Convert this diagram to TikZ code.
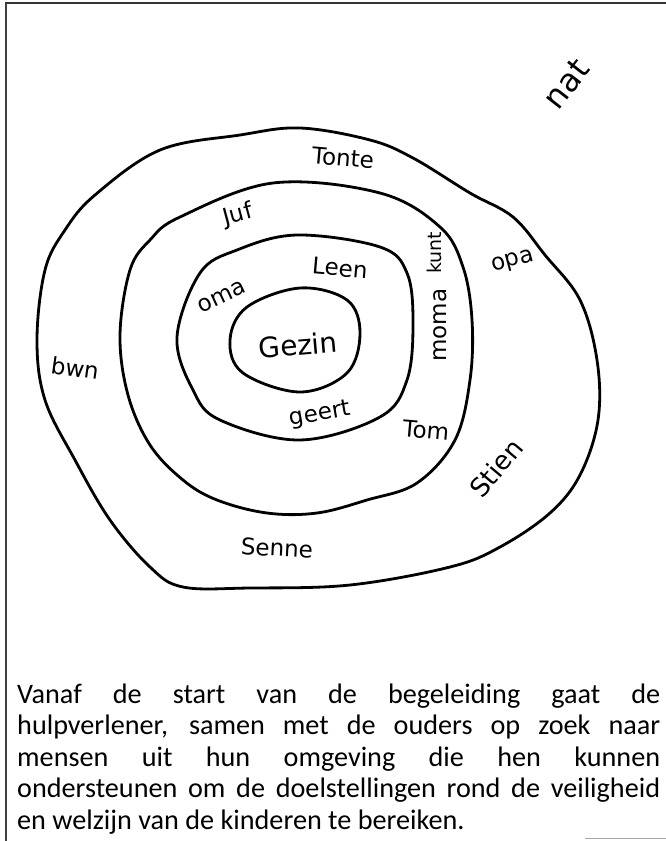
\documentclass[tikz,border=0pt]{standalone}
\usepackage{fontspec}
\newfontfamily\bodyfont{Carlito}
\newfontfamily\handfont{DejaVu Sans}
\tikzset{
  ring/.style={line width=2.8pt, line join=round},
  hand/.style={font=\fontsize{23}{23}\selectfont\handfont, inner sep=0pt},
  frameline/.style={line width=2pt, draw=black!80},
}
\newcommand{\jline}[1]{\makebox[643pt][s]{#1}\\}
\begin{document}
\begin{tikzpicture}[x=1pt,y=-1pt]
\useasboundingbox (0,0) rectangle (666,841);
\fill[white] (0,0) rectangle (666,841);
% frame
\draw[frameline] (5,3) -- (666,3);
\draw[line width=1.3pt, draw=black!75] (6,3) -- (6,841);
\draw[line width=1pt, draw=black!35] (585,838) -- (666,838);
% rings
\draw[ring] plot[smooth cycle, tension=0.6] coordinates {(300,288) (347,300) (360,333) (347,373) (300,392) (243,373) (230,340) (247,307)};
\draw[ring] plot[smooth cycle, tension=0.6] coordinates {(297,235) (380,247) (407,273) (413,323) (407,380) (380,417) (300,440) (220,420) (193,390) (177,337) (200,273) (237,250)};
\draw[ring] plot[smooth cycle, tension=0.6] coordinates {(273,183) (380,193) (440,227) (463,267) (472,320) (470,380) (455,440) (417,483) (367,500) (317,513) (267,513) (217,500) (183,480) (150,445) (128,395) (120,335) (130,270) (150,240) (180,217)};
\draw[ring] plot[smooth cycle, tension=0.6] coordinates {(95,195) (160,150) (240,135) (300,128) (370,140) (413,158) (470,193) (513,217) (545,255) (580,300) (597,360) (598,420) (580,475) (550,513) (500,547) (450,567) (350,585) (250,588) (183,587) (150,567) (110,520) (75,460) (45,400) (37,340) (45,270) (65,230)};
% labels
\node[hand, font=\fontsize{32}{32}\selectfont\handfont, rotate=52] (nat) at (566,84) {nat};
\node[hand, rotate=-5] (tante) at (343,158) {Tonte};
\node[hand, rotate=15] (juf) at (238,215) {Juf};
\node[hand, rotate=-5] (leen) at (340,268) {Leen};
\node[hand, font=\fontsize{19}{19}\selectfont\handfont, rotate=90] (kurt) at (434,253) {kunt};
\node[hand, rotate=90] (mama) at (440,325) {moma};
\node[hand, rotate=25] (oma) at (222,297) {oma};
\node[hand, font=\fontsize{28}{28}\selectfont\handfont, rotate=5] (gezin) at (298,345) {Gezin};
\node[hand, rotate=10] (geert) at (320,415) {geert};
\node[hand, rotate=-5] (tom) at (426,430) {Tom};
\node[hand, rotate=15] (opa) at (513,262) {opa};
\node[hand, rotate=-8] (buur) at (75,368) {bwn};
\node[hand, font=\fontsize{26}{26}\selectfont\handfont, rotate=50] (stien) at (496,468) {Stien};
\node[hand, rotate=-3] (senne) at (277,548) {Senne};
% caption
\node[anchor=base west, inner sep=0pt] (caption) at (17,703) {\parbox[t]{643pt}{\bodyfont\fontsize{28.2}{31.5}\selectfont\setlength{\baselineskip}{31.5pt}%
\jline{Vanaf de start van de begeleiding gaat de}
\jline{hulpverlener, samen met de ouders op zoek naar}
\jline{mensen uit hun omgeving die hen kunnen}
\jline{ondersteunen om de doelstellingen rond de veiligheid}
en welzijn van de kinderen te bereiken.}};
\end{tikzpicture}
\end{document}
